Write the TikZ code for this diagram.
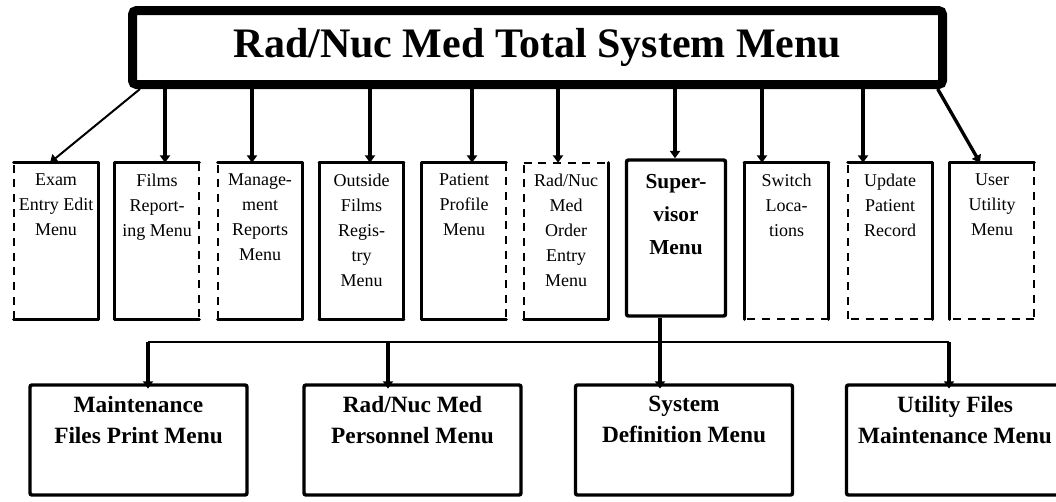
\documentclass[tikz,border=0pt]{standalone}
\usepackage{fontspec}
\setmainfont{Liberation Serif}
\usetikzlibrary{arrows.meta,calc}

\begin{document}
\begin{tikzpicture}[x=0.75pt,y=-0.75pt,
    topbox/.style={draw,line width=6.75pt,rounded corners=3pt,minimum width=607.5pt,minimum height=55.5pt,inner sep=0pt,font=\bfseries\fontsize{31.5}{36}\selectfont},
    midbox/.style={minimum width=63pt,minimum height=117pt,inner sep=0pt},
    midtext/.style={anchor=north,align=center,inner sep=0pt,font=\fontsize{13.5}{18.75}\selectfont},
    solidside/.style={line width=2.25pt,line cap=round},
    dashside/.style={line width=1.5pt,dash pattern=on 6pt off 5pt},
    lowbox/.style={draw,line width=2.6pt,rounded corners=1.5pt,minimum width=162.75pt,minimum height=82.5pt,inner sep=0pt},
    lowtext/.style={anchor=north,align=center,inner sep=0pt,font=\bfseries\fontsize{17.5}{23.25}\selectfont},
    arr/.style={line width=2.5pt,-{Triangle[width=7.5pt,length=5.5pt]}},
    bus/.style={line width=1.9pt}]

    \clip (0,0) rectangle (1056,501);
    \fill[white] (0,0) rectangle (1056,501);

    % main menu
    \node[topbox] (menu) at (537.5,47.5) {Rad/Nuc Med Total System Menu};

    % second level, sides: left/top/right/bottom
    \foreach \n/\cx/\l/\t/\r/\b/\txt in {
      exam/56/dashside/solidside/solidside/solidside/{Exam\\Entry Edit\\Menu},
      films/157/solidside/solidside/dashside/solidside/{Films\\Report-\\ing Menu},
      manage/260/dashside/solidside/solidside/solidside/{Manage-\\ment\\Reports\\Menu},
      outside/361.5/solidside/solidside/solidside/solidside/{Outside\\Films\\Regis-\\try\\Menu},
      patient/464/solidside/solidside/dashside/solidside/{Patient\\Profile\\Menu},
      order/566/dashside/dashside/solidside/solidside/{Rad/Nuc\\Med\\Order\\Entry\\Menu},
      switch/786.5/solidside/solidside/solidside/dashside/{Switch\\Loca-\\tions},
      update/890/dashside/solidside/solidside/dashside/{Update\\Patient\\Record},
      user/992/solidside/solidside/dashside/dashside/{User\\Utility\\Menu}} {
      \node[midbox] (\n) at (\cx,241) {};
      \draw[\l] (\n.south west) -- (\n.north west);
      \draw[\t] (\n.north west) -- (\n.north east);
      \draw[\r] (\n.north east) -- (\n.south east);
      \draw[\b] (\n.south east) -- (\n.south west);
      \node[midtext] (\n txt) at ([yshift=-8.25pt]\n.north) {\txt};
    }
    \node[midbox,draw,line width=2.6pt,rounded corners=1.5pt,minimum width=74.25pt] (super) at (676,238) {};
    \node[midtext,font=\bfseries\fontsize{16}{24.75}\selectfont] (supertxt) at ([yshift=-12pt]super.north) {Super-\\visor\\Menu};

    % arrows from main menu
    \foreach \n/\dx in {films/8,manage/-8,outside/8.5,patient/8,order/-8,super/-1,switch/-24.5,update/-27} {
      \coordinate (a\n) at ($(\n.north)+(\dx,0)$);
      \draw[arr] (a\n |- menu.south) -- (a\n);
    }
    \draw[arr,line width=1.5pt] ([xshift=9pt]menu.south west) -- ([xshift=-4.5pt]exam.north);
    \draw[arr] ([xshift=-7pt]menu.south east) -- ([xshift=-9pt]user.north);

    % supervisor submenus
    \node[lowbox] (maint) at (138.5,440) {};
    \node[lowbox] (pers) at (412.5,440) {};
    \node[lowbox] (sysdef) at (684,440) {};
    \node[lowbox] (util) at (955,440) {};
    \node[lowtext] (mainttxt) at ([yshift=-9.75pt]maint.north) {Maintenance\\Files Print Menu};
    \node[lowtext] (perstxt) at ([yshift=-9.75pt]pers.north) {Rad/Nuc Med\\Personnel Menu};
    \node[lowtext] (sysdeftxt) at ([yshift=-9.75pt]sysdef.north) {System\\Definition Menu};
    \node[lowtext] (utiltxt) at ([yshift=-9.75pt]util.north) {Utility Files\\Maintenance Menu};

    \coordinate (busl) at (148,342);
    \coordinate (busm) at (388,342);
    \coordinate (busr) at (949,342);
    \coordinate (svb) at ([xshift=-12pt]super.south);
    \draw[bus] (busl) -- (busr);
    \draw[arr,shorten >=-4pt] (busl) -- (busl |- maint.north);
    \draw[arr,shorten >=-4pt] (busm) -- (busm |- pers.north);
    \draw[arr,shorten >=-4pt] (svb) -- (svb |- sysdef.north);
    \draw[arr,shorten >=-4pt] (busr) -- (busr |- util.north);
\end{tikzpicture}
\end{document}
